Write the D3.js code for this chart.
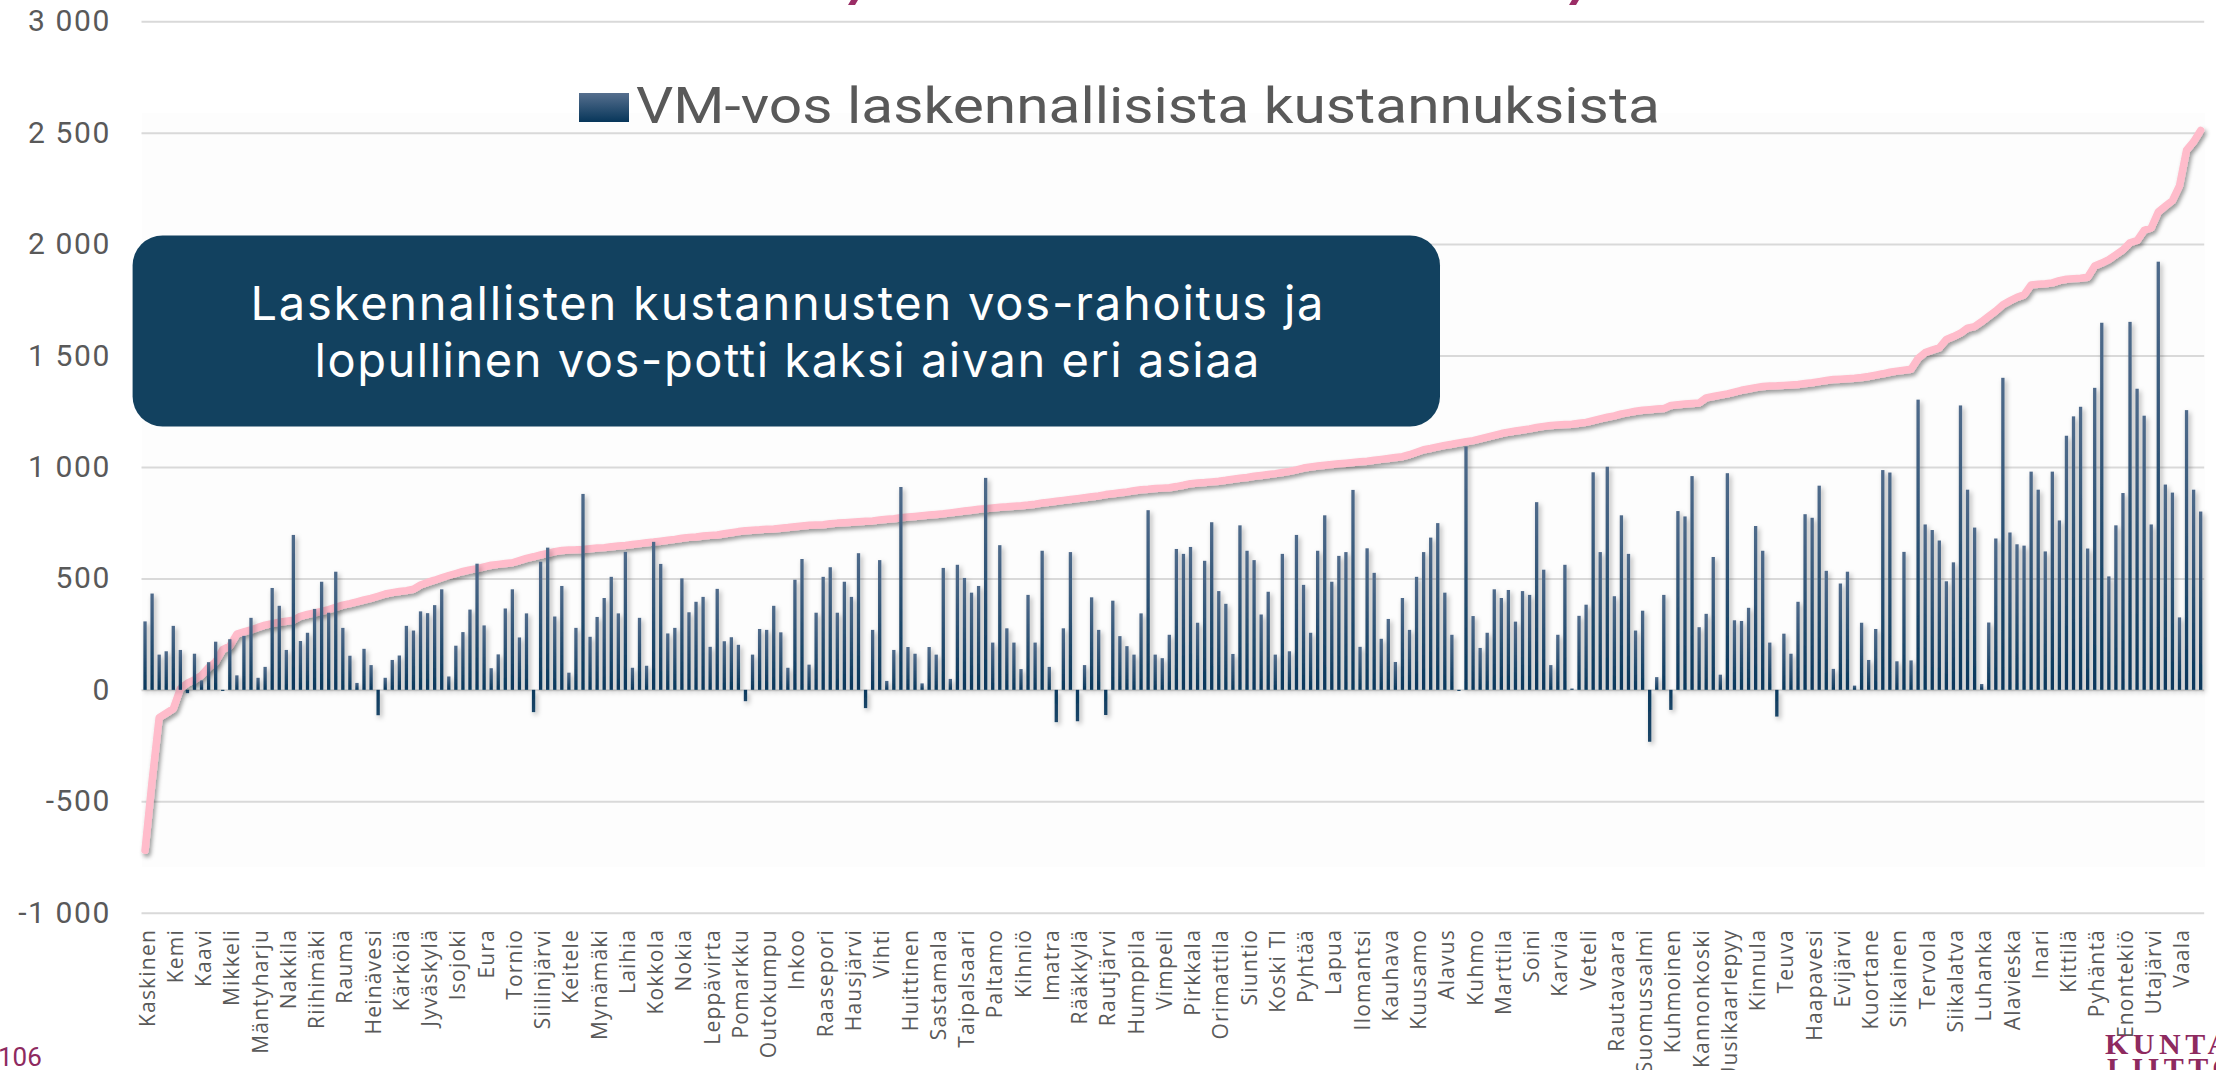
<!DOCTYPE html>
<html>
<head>
<meta charset="utf-8">
<script src="https://cdn.jsdelivr.net/npm/d3@7"></script>
<style>
  html, body { margin: 0; padding: 0; background: #ffffff; }
  svg { display: block; }
</style>
</head>
<body>
<svg id="chart" width="2216" height="1070"></svg>
<script>
// Municipality names shown on the category axis (every fourth municipality)
const tickLabels = [
  "Kaskinen","Kemi","Kaavi","Mikkeli","Mäntyharju","Nakkila","Riihimäki","Rauma",
  "Heinävesi","Kärkölä","Jyväskylä","Isojoki","Eura","Tornio","Siilinjärvi","Keitele",
  "Mynämäki","Laihia","Kokkola","Nokia","Leppävirta","Pomarkku","Outokumpu","Inkoo",
  "Raasepori","Hausjärvi","Vihti","Huittinen","Sastamala","Taipalsaari","Paltamo","Kihniö",
  "Imatra","Rääkkylä","Rautjärvi","Humppila","Vimpeli","Pirkkala","Orimattila","Siuntio",
  "Koski Tl","Pyhtää","Lapua","Ilomantsi","Kauhava","Kuusamo","Alavus","Kuhmo",
  "Marttila","Soini","Karvia","Veteli","Rautavaara","Suomussalmi","Kuhmoinen","Kannonkoski",
  "Uusikaarlepyy","Kinnula","Teuva","Haapavesi","Evijärvi","Kuortane","Siikainen","Tervola",
  "Siikalatva","Luhanka","Alavieska","Inari","Kittilä","Pyhäntä","Enontekiö","Utajärvi","Vaala"
];

// VM-vos laskennallisista kustannuksista, €/asukas (bars)
const vosValues = [
  307,432,158,173,287,179,-15,162,42,124,
  216,-5,227,65,242,323,54,103,457,377,
  179,695,219,256,363,485,346,530,278,153,
  31,184,111,-114,54,134,154,287,266,352,
  344,380,451,60,198,259,360,566,289,97,
  159,365,451,235,343,-100,575,638,329,466,
  77,278,879,238,327,412,507,343,619,99,
  323,108,664,565,253,278,500,348,395,417,
  193,453,218,236,202,-51,158,273,269,377,
  258,99,494,587,113,346,507,550,346,485,
  417,613,-82,269,582,40,179,910,192,162,
  29,192,158,547,49,561,502,436,466,951,
  212,649,276,212,93,426,212,624,103,-145,
  276,618,-141,111,415,269,-113,400,241,196,
  158,343,806,158,142,247,632,610,641,301,
  579,752,443,386,161,738,624,582,338,440,
  158,610,173,695,471,256,624,783,485,601,
  618,897,193,635,525,229,318,125,412,269,
  507,618,683,748,436,247,-5,1092,331,188,
  256,451,412,448,306,443,426,842,539,111,
  247,561,6,332,382,976,618,1001,420,783,
  610,266,355,-233,57,426,-90,802,778,959,
  281,341,596,68,972,312,309,368,735,624,
  212,-120,252,162,395,788,772,916,534,94,
  477,530,19,301,134,273,986,975,128,619,
  132,1302,742,717,670,487,572,1276,898,728,
  26,302,679,1400,706,653,647,979,898,621,
  979,760,1140,1227,1270,634,1355,1647,509,738,
  883,1651,1351,1230,742,1921,921,885,325,1255,
  898,800
];

// Lopullinen vos-potti, €/asukas (sorted line)
const pottiValues = [
  -720,-410,-125,-105,-85,5,30,45,65,100,
  125,180,196,250,260,269,280,290,297,303,
  308,312,330,338,345,352,360,370,380,387,
  395,403,410,420,430,436,441,445,451,470,
  482,492,503,513,522,531,538,544,552,559,
  563,567,570,580,590,597,605,612,620,625,
  627,628,630,633,636,638,642,645,648,652,
  656,660,663,667,671,675,680,684,686,690,
  693,695,700,705,710,714,716,718,721,722,
  725,728,732,735,738,740,741,745,748,750,
  752,754,756,758,762,765,768,772,775,778,
  781,784,787,790,794,798,802,806,810,813,
  816,819,821,824,826,829,833,838,842,846,
  850,854,858,862,866,870,876,880,884,888,
  893,898,900,903,905,907,912,918,925,928,
  930,933,936,940,945,949,953,958,962,966,
  970,975,980,987,995,1000,1004,1008,1011,1014,
  1017,1020,1023,1026,1030,1034,1038,1042,1046,1055,
  1066,1077,1083,1090,1097,1102,1108,1113,1118,1126,
  1134,1142,1150,1156,1161,1166,1171,1177,1182,1186,
  1188,1190,1192,1196,1200,1208,1216,1223,1229,1238,
  1244,1250,1254,1257,1260,1262,1276,1279,1282,1285,
  1287,1310,1316,1322,1328,1336,1344,1350,1356,1361,
  1363,1364,1366,1368,1370,1374,1378,1383,1388,1392,
  1394,1396,1398,1401,1406,1412,1418,1425,1430,1434,
  1438,1487,1513,1524,1534,1572,1585,1600,1623,1630,
  1652,1676,1700,1728,1745,1761,1772,1817,1820,1822,
  1826,1836,1842,1845,1847,1851,1902,1915,1930,1952,
  1974,2006,2016,2062,2072,2144,2170,2195,2261,2421,
  2459,2510
];

const yTickValues = [-1000, -500, 0, 500, 1000, 1500, 2000, 2500, 3000];
const legendLabel = "VM-vos laskennallisista kustannuksista";
const calloutLines = [
  "Laskennallisten kustannusten vos-rahoitus ja",
  "lopullinen vos-potti kaksi aivan eri asiaa"
];

const svg = d3.select("#chart");
const defs = svg.append("defs");

// bar gradient: lighter at the top, deep navy at the base
const g1 = defs.append("linearGradient").attr("id", "barGrad")
  .attr("x1", 0).attr("y1", 0).attr("x2", 0).attr("y2", 1);
g1.append("stop").attr("offset", "0%").attr("stop-color", "#506b8b");
g1.append("stop").attr("offset", "100%").attr("stop-color", "#07365a");
const g2 = defs.append("linearGradient").attr("id", "barGradNeg")
  .attr("x1", 0).attr("y1", 0).attr("x2", 0).attr("y2", 1);
g2.append("stop").attr("offset", "0%").attr("stop-color", "#0a395d");
g2.append("stop").attr("offset", "100%").attr("stop-color", "#1c4668");
const g3 = defs.append("linearGradient").attr("id", "legendGrad")
  .attr("x1", 0).attr("y1", 0).attr("x2", 0).attr("y2", 1);
g3.append("stop").attr("offset", "0%").attr("stop-color", "#566f8e");
g3.append("stop").attr("offset", "100%").attr("stop-color", "#07365a");

const fb = defs.append("filter").attr("id", "barShadow")
  .attr("x", "-5%").attr("y", "-10%").attr("width", "110%").attr("height", "125%");
fb.append("feDropShadow").attr("dx", 2).attr("dy", 2.5).attr("stdDeviation", 2.6)
  .attr("flood-color", "#000").attr("flood-opacity", 0.33);
const fl = defs.append("filter").attr("id", "lineShadow")
  .attr("x", "-5%").attr("y", "-10%").attr("width", "110%").attr("height", "125%");
fl.append("feDropShadow").attr("dx", 2).attr("dy", 3).attr("stdDeviation", 2)
  .attr("flood-color", "#000").attr("flood-opacity", 0.4);

// plot geometry
const plotLeft = 141.5, plotRight = 2204.2;
const yTop = 21.2, yBottom = 912.7;

// faint plot panel
svg.append("rect")
  .attr("x", 142).attr("y", 113).attr("width", 2063).attr("height", 754)
  .attr("fill", "#fdfdfd");

const x = d3.scaleBand()
  .domain(d3.range(vosValues.length))
  .range([plotLeft, plotRight])
  .paddingInner(0.53)
  .paddingOuter(0.265);

const y = d3.scaleLinear().domain([-1000, 3000]).range([yBottom, yTop]);

const fiLocale = d3.formatLocale({
  decimal: ",", thousands: "\u00a0", grouping: [3], currency: ["", " €"], minus: "-"
});
const fmt = fiLocale.format(",d");

// y axis with gridlines
const yAxis = svg.append("g")
  .attr("transform", `translate(${plotLeft},0)`)
  .call(d3.axisLeft(y)
    .tickValues(yTickValues)
    .tickSize(-(plotRight - plotLeft))
    .tickPadding(30.5)
    .tickFormat(fmt));
yAxis.select(".domain").remove();
yAxis.selectAll(".tick line").attr("stroke", "#d9d9d9").attr("stroke-width", 2);
yAxis.selectAll(".tick text")
  .attr("fill", "#595959")
  .style("font-family", "Roboto, 'Liberation Sans', sans-serif")
  .style("font-size", "30px")
  .style("letter-spacing", "1.6px");

// pink line (lopullinen vos-potti)
const line = d3.line()
  .x((d, i) => x(i) + x.bandwidth() / 2)
  .y(d => y(d));
svg.append("path")
  .datum(pottiValues)
  .attr("d", line)
  .attr("fill", "none")
  .attr("stroke", "#ffbccb")
  .attr("stroke-width", 7.5)
  .attr("stroke-linejoin", "round")
  .attr("stroke-linecap", "round")
  .attr("filter", "url(#lineShadow)");

// bars
svg.append("g")
  .attr("filter", "url(#barShadow)")
  .selectAll("rect")
  .data(vosValues)
  .join("rect")
  .attr("x", (d, i) => x(i))
  .attr("width", x.bandwidth())
  .attr("y", d => y(Math.max(0, d)))
  .attr("height", d => Math.abs(y(d) - y(0)))
  .attr("fill", d => d < 0 ? "url(#barGradNeg)" : "url(#barGrad)");

// category axis: every fourth municipality, rotated
const xAxis = svg.append("g")
  .attr("transform", "translate(0,929)")
  .call(d3.axisBottom(x)
    .tickValues(d3.range(0, vosValues.length, 4).filter(i => i / 4 < tickLabels.length))
    .tickSize(0)
    .tickFormat(i => tickLabels[i / 4]));
xAxis.select(".domain").remove();
xAxis.selectAll(".tick text")
  .attr("transform", "rotate(-90)")
  .attr("text-anchor", "end")
  .attr("x", 0)
  .attr("y", 2)
  .attr("dy", "0.36em")
  .attr("fill", "#595959")
  .style("font-family", "'Open Sans', sans-serif")
  .style("font-size", "21px")
  .style("letter-spacing", "1.2px");

// legend
svg.append("rect")
  .attr("x", 579).attr("y", 93).attr("width", 50).attr("height", 29)
  .attr("fill", "url(#legendGrad)");
svg.append("text")
  .attr("x", 636).attr("y", 123)
  .attr("textLength", 1024).attr("lengthAdjust", "spacingAndGlyphs")
  .attr("fill", "#595959")
  .style("font-family", "Roboto, sans-serif")
  .style("font-size", "50px")
  .text(legendLabel);

// callout box
svg.append("rect")
  .attr("x", 132.6).attr("y", 235.5).attr("width", 1307.4).attr("height", 191)
  .attr("rx", 30).attr("ry", 30)
  .attr("fill", "#12415f");
const calloutLengths = [1073, 945];
svg.selectAll("text.callout")
  .data(calloutLines)
  .join("text")
  .attr("class", "callout")
  .attr("x", 787)
  .attr("y", (d, i) => 320 + i * 57)
  .attr("text-anchor", "middle")
  .attr("textLength", (d, i) => calloutLengths[i])
  .attr("lengthAdjust", "spacing")
  .attr("fill", "#ffffff")
  .style("font-family", "Inter, 'Open Sans', sans-serif")
  .style("font-size", "47px")
  .text(d => d);

// slide decorations: title descenders at the top edge, page number and logo
svg.append("path").attr("d", "M851,0 L858,0 L855,5 L848,5 Z").attr("fill", "#9b2d66");
svg.append("path").attr("d", "M1572,0 L1579,0 L1576,5 L1569,5 Z").attr("fill", "#9b2d66");
svg.append("text")
  .attr("x", -2).attr("y", 1066)
  .attr("fill", "#8e2a5f")
  .style("font-family", "Roboto, sans-serif")
  .style("font-size", "26px")
  .text("106");
svg.append("text")
  .attr("x", 2105).attr("y", 1054)
  .attr("fill", "#8e2a5f")
  .style("font-family", "'Liberation Serif', serif")
  .style("font-weight", "bold")
  .style("font-size", "30px")
  .style("letter-spacing", "4.5px")
  .text("KUNTA");
svg.append("text")
  .attr("x", 2107).attr("y", 1078)
  .attr("fill", "#8e2a5f")
  .style("font-family", "'Liberation Serif', serif")
  .style("font-weight", "bold")
  .style("font-size", "30px")
  .style("letter-spacing", "4.5px")
  .text("LIITTO");
</script>
</body>
</html>
